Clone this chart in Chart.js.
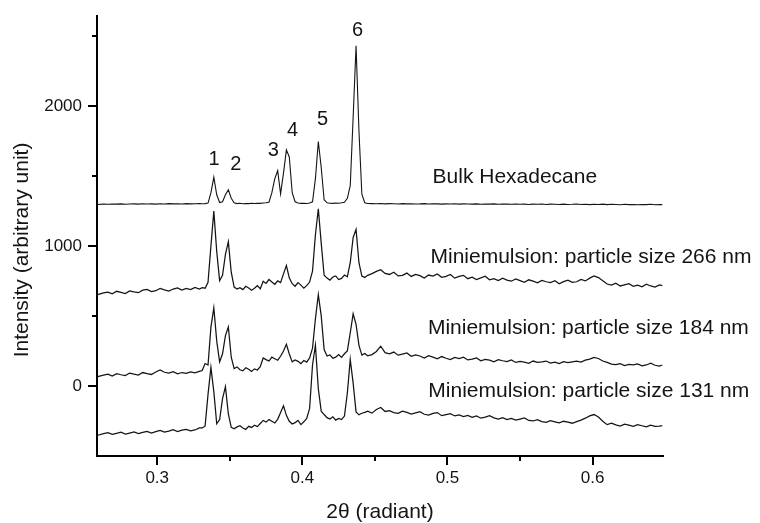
<!DOCTYPE html>
<html>
<head>
<meta charset="utf-8">
<script src="https://cdn.jsdelivr.net/npm/chart.js@4.4.0/dist/chart.umd.min.js"></script>
<style>
  body { margin: 0; background: #fff; }
  #chart { display: block; }
</style>
</head>
<body>
<canvas id="chart" width="760" height="523"></canvas>
<script>
// scattering angle 2theta (radiant)
const twoTheta = [
  0.259, 0.263, 0.266, 0.269, 0.272, 0.275, 0.278, 0.281, 0.284, 0.287,
  0.290, 0.293, 0.296, 0.299, 0.302, 0.305, 0.308, 0.311, 0.314, 0.317,
  0.320, 0.323, 0.326, 0.329,
  0.331, 0.333, 0.335, 0.337, 0.339, 0.341, 0.343, 0.345, 0.347, 0.349,
  0.351, 0.353, 0.355, 0.357, 0.359, 0.361, 0.363, 0.365, 0.367, 0.369,
  0.371, 0.373, 0.375, 0.377, 0.379, 0.381, 0.383, 0.385, 0.387, 0.389,
  0.391, 0.393, 0.395, 0.397, 0.399, 0.401, 0.403, 0.405, 0.407, 0.409,
  0.411, 0.413, 0.415, 0.417, 0.419, 0.421, 0.423, 0.425, 0.427, 0.429,
  0.431, 0.433, 0.435, 0.437, 0.439, 0.441, 0.443, 0.445,
  0.448, 0.451, 0.454, 0.457, 0.460, 0.463, 0.466, 0.469, 0.472, 0.475,
  0.478, 0.481, 0.484, 0.487, 0.490, 0.493, 0.496, 0.499, 0.502, 0.505,
  0.508, 0.511, 0.514, 0.517, 0.520, 0.523, 0.526, 0.529, 0.532, 0.535,
  0.538, 0.541, 0.544, 0.547, 0.550, 0.553, 0.556, 0.559, 0.562, 0.565,
  0.568, 0.571, 0.574, 0.577, 0.580, 0.583, 0.586, 0.589, 0.592, 0.595,
  0.598, 0.601, 0.604, 0.607, 0.610, 0.613, 0.616, 0.619, 0.622, 0.625,
  0.628, 0.631, 0.634, 0.637, 0.640, 0.643, 0.646, 0.648
];

// intensity, shifted curves as in the figure
const bulkHexadecane = [
  1296, 1298, 1297, 1299, 1298, 1300, 1297, 1299, 1300, 1298,
  1301, 1299, 1300, 1298, 1301, 1299, 1302, 1300, 1301, 1299,
  1302, 1300, 1301, 1303,
  1301, 1302, 1306, 1380, 1490, 1365, 1310, 1315, 1365, 1400,
  1340, 1308, 1302, 1304, 1301, 1303, 1302, 1304, 1303, 1305,
  1304, 1306, 1308, 1312, 1380, 1480, 1537, 1372, 1520, 1686,
  1635, 1380, 1315, 1306, 1304, 1305, 1303, 1306, 1315, 1480,
  1745, 1560, 1330, 1308, 1305, 1304, 1306, 1305, 1308, 1312,
  1340, 1430, 1920, 2428, 1820, 1370, 1308, 1303,
  1302, 1301, 1303, 1300, 1302, 1301, 1299, 1302, 1300, 1301,
  1299, 1300, 1302, 1299, 1301, 1300, 1298, 1300, 1299, 1301,
  1298, 1300, 1299, 1298, 1300, 1297, 1299, 1298, 1300, 1297,
  1299, 1298, 1297, 1299, 1297, 1298, 1296, 1298, 1297, 1299,
  1296, 1298, 1297, 1296, 1298, 1296, 1297, 1299, 1296, 1297,
  1295, 1297, 1296, 1298, 1295, 1297, 1296, 1294, 1297, 1295,
  1296, 1294, 1296, 1295, 1297, 1294, 1296, 1295
];

const mini266 = [
  652, 664, 670, 658, 676, 668, 660, 679, 672, 666,
  684, 690, 674, 680, 696, 686, 678, 692, 700, 684,
  696, 688, 704, 692,
  702, 698, 740, 1000, 1248, 960, 752, 790, 940, 1030,
  812, 706, 692, 702, 688, 712, 700, 684, 698, 716,
  694, 748, 732, 760, 742, 726, 750, 738, 800, 860,
  772, 730, 712, 738, 720, 698, 716, 742, 820, 1080,
  1265, 1020, 790, 770, 756, 778, 786, 760, 768, 792,
  780, 880, 1060, 1118, 880, 785, 775, 790,
  802, 818, 830, 804, 796, 812, 786, 790, 806, 782,
  796, 788, 770, 792, 784, 800, 776, 782, 796, 770,
  782, 790, 766, 776, 760, 772, 784, 758, 766, 752,
  770, 756, 748, 764, 752, 740, 758, 748, 736, 754,
  744, 738, 752, 730, 745, 756, 740, 744, 760, 750,
  770, 786, 774, 752, 728, 720, 734, 714, 722, 730,
  712, 720, 708, 726, 714, 706, 722, 716
];

const mini184 = [
  66, 78, 84, 70, 88, 80, 74, 92, 84, 78,
  96, 88, 82, 100, 114, 98, 92, 102, 86, 96,
  90, 100, 94, 104,
  110, 160, 150, 420, 558, 320, 172, 230, 360, 421,
  205, 124, 136, 116, 108, 130, 120, 104, 122, 114,
  138, 200, 188, 178, 206, 194, 184, 212, 250, 298,
  228, 172, 186, 176, 160, 182, 170, 200, 270, 480,
  652, 500, 260, 214, 222, 198, 206, 224, 204, 230,
  250, 380, 515, 440, 290, 220, 232, 215,
  224, 246, 284, 238, 230, 242, 220, 228, 236, 212,
  222, 214, 200, 216, 206, 194, 210, 198, 188, 204,
  196, 206, 186, 192, 200, 180, 190, 184, 172, 188,
  180, 174, 186, 168, 176, 170, 162, 178, 168, 172,
  178, 164, 170, 160, 174, 166, 172, 178, 170, 184,
  192, 204, 196, 178, 168, 156, 152, 160, 146, 154,
  150, 158, 144, 150, 162, 148, 142, 150
];

const mini131 = [
  -352, -340, -334, -346, -338, -330, -344, -336, -328, -340,
  -332, -324, -336, -326, -318, -330, -322, -312, -326, -316,
  -310, -320, -314, -300,
  -300, -285, -60, 133, -40, -270, -240, -90, -5, -200,
  -296, -306, -292, -284, -300, -310, -288, -296, -280, -290,
  -268, -246, -258, -240, -252, -264, -238, -190, -142, -210,
  -252, -272, -262, -246, -276, -256, -232, -160, 150, 291,
  -20, -180, -204, -226, -236, -220, -244, -232, -240, -215,
  -50, 189, 20, -185, -206, -195, -188, -180,
  -194, -168, -154, -182, -176, -190, -196, -180, -188, -200,
  -192, -184, -202, -208, -196, -190, -212, -204, -198, -214,
  -206, -218, -210, -224, -214, -230, -222, -212, -228, -236,
  -226, -240, -232, -244, -236, -228, -246, -250, -240, -254,
  -260, -248, -256, -264, -252, -258, -266, -254, -244, -230,
  -214, -204, -222, -252, -276, -266, -278, -286, -272, -280,
  -288, -276, -284, -292, -280, -288, -286, -284
];

// axis ticks
const xMajorTicks = [0.3, 0.4, 0.5, 0.6];
const xMinorTicks = [0.35, 0.45, 0.55];
const yMajorTicks = [0, 1000, 2000];
const yMinorTicks = [500, 1500, 2500];

// curve names and peak numbers, placed in data units
const curveNames = ['Bulk Hexadecane', 'Miniemulsion: particle size 266 nm',
  'Miniemulsion: particle size 184 nm', 'Miniemulsion: particle size 131 nm'];
const curveNameX = [0.4897, 0.4883, 0.4865, 0.4868];
const curveNameY = [1447, 880, 373, -78];
const peakNames = ['1', '2', '3', '4', '5', '6'];
const peakNameX = [0.3392, 0.3541, 0.3800, 0.3932, 0.4139, 0.4381];
const peakNameY = [1579, 1544, 1645, 1785, 1863, 2501];

const FONT = "'Liberation Sans', Arial, sans-serif";
const INK = '#141414';

function series(ys) {
  return twoTheta.map((x, i) => ({ x: x, y: ys[i] }));
}

function lineSet(ys, w) {
  return {
    data: series(ys),
    borderColor: INK,
    borderWidth: w,
    pointRadius: 0,
    tension: 0,
    fill: false
  };
}

// draws minor ticks, curve names and axis titles
const decorations = {
  id: 'decorations',
  afterDraw(chart) {
    const ctx = chart.ctx;
    const xs = chart.scales.x;
    const ys = chart.scales.y;
    const area = chart.chartArea;

    ctx.save();
    ctx.strokeStyle = '#000';
    ctx.lineWidth = 2;
    xMinorTicks.forEach(v => {
      const px = Math.round(xs.getPixelForValue(v));
      ctx.beginPath();
      ctx.moveTo(px, area.bottom);
      ctx.lineTo(px, area.bottom + 5);
      ctx.stroke();
    });
    yMinorTicks.forEach(v => {
      const py = Math.round(ys.getPixelForValue(v));
      ctx.beginPath();
      ctx.moveTo(area.left - 5, py);
      ctx.lineTo(area.left, py);
      ctx.stroke();
    });

    ctx.fillStyle = INK;
    ctx.textBaseline = 'alphabetic';
    ctx.font = '21px ' + FONT;
    ctx.textAlign = 'left';
    curveNames.forEach((t, i) => {
      ctx.fillText(t, xs.getPixelForValue(curveNameX[i]), ys.getPixelForValue(curveNameY[i]));
    });

    ctx.font = '20px ' + FONT;
    ctx.textAlign = 'center';
    peakNames.forEach((t, i) => {
      ctx.fillText(t, xs.getPixelForValue(peakNameX[i]), ys.getPixelForValue(peakNameY[i]));
    });

    // axis titles
    ctx.font = '21px ' + FONT;
    ctx.fillText('2\u03b8 (radiant)', (area.left + area.right) / 2, 518);
    ctx.translate(28, 250);
    ctx.rotate(-Math.PI / 2);
    ctx.fillText('Intensity (arbitrary unit)', 0, 0);
    ctx.restore();
  }
};

const tickFont = { family: FONT, size: 17 };

new Chart(document.getElementById('chart').getContext('2d'), {
  type: 'line',
  data: {
    datasets: [
      lineSet(bulkHexadecane, 1.1),
      lineSet(mini266, 1.25),
      lineSet(mini184, 1.25),
      lineSet(mini131, 1.25)
    ]
  },
  options: {
    responsive: false,
    animation: false,
    layout: { padding: { left: 0, right: 97, top: 14, bottom: 0 } },
    plugins: { legend: { display: false }, tooltip: { enabled: false } },
    scales: {
      x: {
        type: 'linear',
        min: 0.2585,
        max: 0.6485,
        afterBuildTicks: s => { s.ticks = xMajorTicks.map(v => ({ value: v })); },
        afterFit: s => { s.height = 67; },
        ticks: {
          font: tickFont, color: INK, padding: 3, maxRotation: 0, autoSkip: false,
          callback: v => v.toFixed(1)
        },
        grid: { drawOnChartArea: false, tickLength: 9, color: '#000', lineWidth: 2 },
        border: { color: '#000', width: 2 }
      },
      y: {
        min: -500,
        max: 2640,
        afterBuildTicks: s => { s.ticks = yMajorTicks.map(v => ({ value: v })); },
        afterFit: s => { s.width = 97; },
        ticks: {
          font: tickFont, color: INK, padding: 6, autoSkip: false,
          callback: v => String(v)
        },
        grid: { drawOnChartArea: false, tickLength: 9, color: '#000', lineWidth: 2 },
        border: { color: '#000', width: 2 }
      }
    }
  },
  plugins: [decorations]
});
</script>
</body>
</html>
